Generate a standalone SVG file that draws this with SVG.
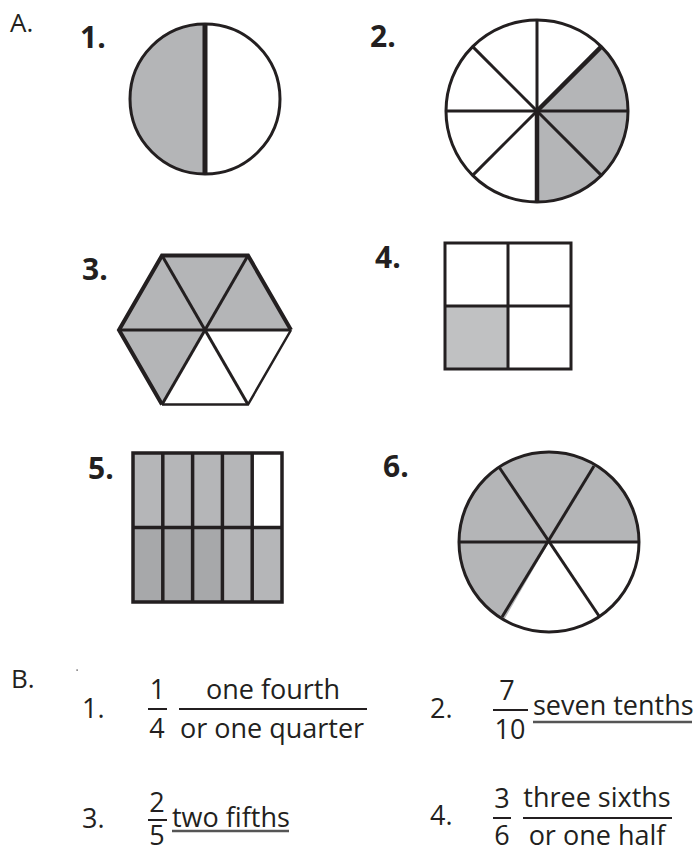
<svg xmlns="http://www.w3.org/2000/svg" width="696" height="850" viewBox="0 0 696 850">
<style>
.t{font-family:"Open Sans","Liberation Sans",sans-serif;fill:#231f20;font-size:27px}
.h{font-family:"Open Sans","Liberation Sans",sans-serif;fill:#231f20;font-size:26px}
.n{font-family:"Open Sans","Liberation Sans",sans-serif;fill:#231f20;font-size:30px;font-weight:bold}
.c{text-anchor:middle}
.o{fill:none;stroke:#231f20;stroke-width:3}
.l{stroke:#231f20;stroke-width:3;fill:none}
.g{fill:#b4b5b7}
.bar{stroke:#231f20;stroke-width:2}
.ul{stroke:#555;stroke-width:2.5}
</style>
<rect width="696" height="850" fill="#fff"/>
<text class="h" x="10" y="32">A.</text>
<text class="h" x="11" y="688">B.</text>
<rect x="76.5" y="669.5" width="1.2" height="1.2" fill="#231f20"/>

<g id="fig1">
<text class="n" x="80" y="48">1.</text>
<path class="g" d="M205,24 A75,75 0 0,0 205,174 Z"/>
<circle class="o" cx="205" cy="99" r="75"/>
<line x1="205" y1="24" x2="205" y2="174" stroke="#231f20" stroke-width="5"/>
</g>

<g id="fig2">
<text class="n" x="370" y="47">2.</text>
<path class="g" d="M537,111 L601.35,46.65 A91,91 0 0,1 537,202 Z"/>
<circle class="o" cx="537" cy="111" r="91"/>
<line class="l" x1="537" y1="20" x2="537" y2="111"/>
<line class="l" x1="446" y1="111" x2="628" y2="111"/>
<line class="l" x1="472.65" y1="46.65" x2="601.35" y2="175.35"/>
<line class="l" x1="472.65" y1="175.35" x2="537" y2="111"/>
<line x1="537" y1="111" x2="601.35" y2="46.65" stroke="#231f20" stroke-width="4.5"/>
<line x1="537" y1="111" x2="537" y2="202" stroke="#231f20" stroke-width="4.5"/>
</g>

<g id="fig3">
<text class="n" x="82" y="280">3.</text>
<path class="g" d="M205,330 L162,404.5 L119,330 L162,255.5 L248,255.5 L291,330 Z"/>
<path d="M291,330 L248,404.5 L162,404.5" fill="none" stroke="#231f20" stroke-width="2.5"/>
<path d="M162,404.5 L119,330 L162,255.5 L248,255.5 L291,330" fill="none" stroke="#231f20" stroke-width="4" stroke-linejoin="miter"/>
<line class="l" x1="119" y1="330" x2="291" y2="330" stroke-width="3"/>
<line class="l" x1="162" y1="255.5" x2="248" y2="404.5" stroke-width="2.5"/>
<line class="l" x1="248" y1="255.5" x2="205" y2="330" stroke-width="2.5"/>
<line class="l" x1="205" y1="330" x2="162" y2="404.5" stroke-width="3.5"/>
</g>

<g id="fig4">
<text class="n" x="375" y="268">4.</text>
<rect x="445" y="306" width="63" height="63" fill="#c0c1c2"/>
<rect class="o" x="445" y="243" width="126" height="126"/>
<line class="l" x1="508" y1="243" x2="508" y2="369"/>
<line class="l" x1="445" y1="306" x2="571" y2="306"/>
</g>

<g id="fig5">
<text class="n" x="88" y="479">5.</text>
<rect x="133" y="453" width="149" height="149" fill="#b5b6b8"/>
<rect x="252.2" y="453" width="29.8" height="74.5" fill="#fff"/>
<rect x="133" y="527.5" width="89.4" height="74.5" fill="#a7a8aa"/>
<g stroke="#231f20" stroke-width="3.5" fill="none">
<rect x="133" y="453" width="149" height="149"/>
<line x1="162.8" y1="453" x2="162.8" y2="602"/>
<line x1="192.6" y1="453" x2="192.6" y2="602"/>
<line x1="222.4" y1="453" x2="222.4" y2="602"/>
<line x1="252.2" y1="453" x2="252.2" y2="602"/>
<line x1="133" y1="527.5" x2="282" y2="527.5"/>
</g>
</g>

<g id="fig6">
<text class="n" x="383" y="477">6.</text>
<path class="g" d="M549,542 L504,619.94 A90,90 0 1,1 639,542 Z"/>
<circle class="o" cx="549" cy="542" r="90" stroke-width="3.5"/>
<line class="l" x1="459" y1="542" x2="639" y2="542" stroke-width="3.5"/>
<line class="l" x1="499" y1="467" x2="599" y2="616"/>
<line class="l" x1="594" y1="466" x2="502" y2="617"/>
</g>

<g id="b1">
<text class="t" x="82" y="718">1.</text>
<text class="t c" x="157.5" y="699">1</text>
<line class="bar" x1="148" y1="709" x2="167" y2="709"/>
<text class="t c" x="157" y="738">4</text>
<text class="t c" x="273" y="699">one fourth</text>
<line class="bar" x1="179" y1="709" x2="367" y2="709"/>
<text class="t c" x="272" y="738">or one quarter</text>
</g>

<g id="b2">
<text class="t" x="430" y="718">2.</text>
<text class="t c" x="507" y="700">7</text>
<line class="bar" x1="493" y1="710" x2="528" y2="710"/>
<text class="t c" x="510" y="739">10</text>
<text class="t" x="533" y="715">seven tenths</text>
<line class="ul" x1="533" y1="722" x2="692" y2="722"/>
</g>

<g id="b3">
<text class="t" x="82" y="828">3.</text>
<text class="t c" x="157" y="812">2</text>
<line class="bar" x1="148" y1="820" x2="167" y2="820"/>
<text class="t c" x="157" y="845">5</text>
<text class="t" x="172" y="827">two fifths</text>
<line class="ul" x1="172" y1="831" x2="289" y2="831"/>
</g>

<g id="b4">
<text class="t" x="430" y="825">4.</text>
<text class="t c" x="502" y="808">3</text>
<line class="bar" x1="493" y1="818" x2="511" y2="818"/>
<text class="t c" x="502" y="845">6</text>
<text class="t c" x="597" y="807">three sixths</text>
<line class="bar" x1="523" y1="818" x2="672" y2="818"/>
<text class="t c" x="597" y="845">or one half</text>
</g>
</svg>
